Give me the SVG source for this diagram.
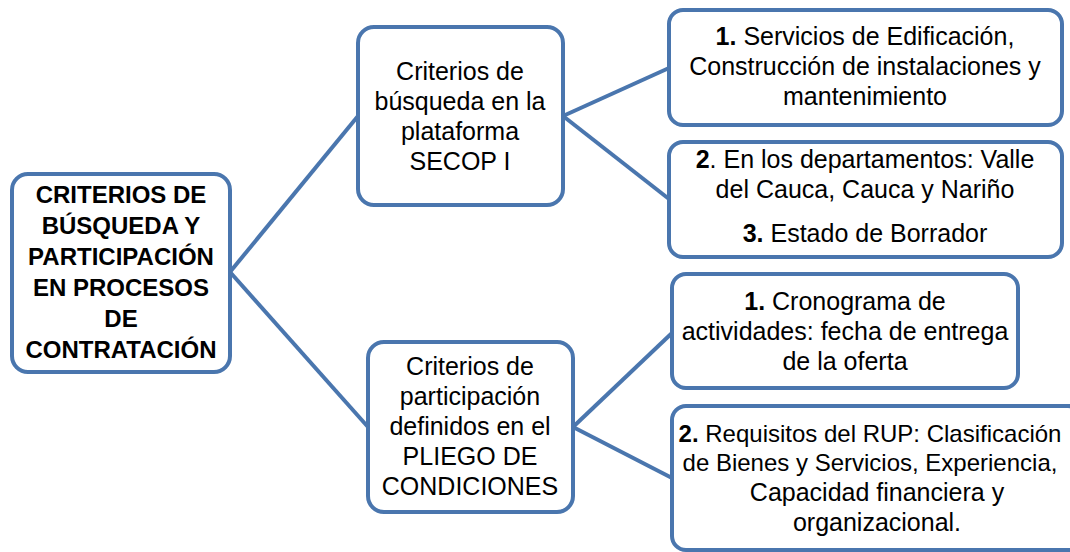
<svg xmlns="http://www.w3.org/2000/svg" width="1070" height="552" viewBox="0 0 1070 552">
<style>
.box{fill:#ffffff;stroke:#4a76ae;stroke-width:4}
.ln{stroke:#4a76ae;stroke-width:4;fill:none}
text{font-family:"Liberation Sans",Arial,sans-serif;font-size:25px;fill:#000;text-anchor:middle}
.root{font-weight:bold;font-size:24px}
.b{font-weight:bold}
.fit{font-size:24px}
</style>
<rect width="1070" height="552" fill="#ffffff"/>
<g id="connectors">
<line class="ln" x1="230" y1="272" x2="358" y2="116"/>
<line class="ln" x1="230" y1="272" x2="368" y2="427"/>
<line class="ln" x1="563" y1="116" x2="669" y2="68"/>
<line class="ln" x1="563" y1="116" x2="669" y2="199"/>
<line class="ln" x1="573" y1="427" x2="672" y2="333"/>
<line class="ln" x1="573" y1="427" x2="672" y2="478"/>
</g>
<g id="root">
<rect class="box" x="12" y="174" width="218" height="198" rx="16"/>
<text class="root" x="121" y="203">CRITERIOS DE</text>
<text class="root" x="121" y="234">BÚSQUEDA Y</text>
<text class="root" x="121" y="265">PARTICIPACIÓN</text>
<text class="root" x="121" y="296">EN PROCESOS</text>
<text class="root" x="121" y="327">DE</text>
<text class="root" x="121" y="358">CONTRATACIÓN</text>
</g>
<g id="busqueda">
<rect class="box" x="358" y="27" width="205" height="178" rx="16"/>
<text x="460" y="80">Criterios de</text>
<text x="460" y="110">búsqueda en la</text>
<text x="460" y="140">plataforma</text>
<text x="460" y="170">SECOP I</text>
</g>
<g id="participacion">
<rect class="box" x="368" y="342" width="205" height="170" rx="16"/>
<text x="470" y="375">Criterios de</text>
<text x="470" y="405">participación</text>
<text x="470" y="435">definidos en el</text>
<text x="470" y="465">PLIEGO DE</text>
<text x="470" y="495">CONDICIONES</text>
</g>
<g id="edificacion">
<rect class="box" x="669" y="10" width="393" height="115" rx="14"/>
<text x="865" y="45"><tspan class="b">1.</tspan> Servicios de Edificación,</text>
<text x="865" y="75">Construcción de instalaciones y</text>
<text x="865" y="105">mantenimiento</text>
</g>
<g id="departamentos">
<rect class="box" x="669" y="142" width="393" height="115" rx="14"/>
<text x="865" y="168"><tspan class="b">2</tspan>. En los departamentos: Valle</text>
<text x="865" y="198">del Cauca, Cauca y Nariño</text>
<text x="865" y="242"><tspan class="b">3.</tspan> Estado de Borrador</text>
</g>
<g id="cronograma">
<rect class="box" x="672" y="274" width="346" height="114" rx="14"/>
<text x="845" y="310"><tspan class="b">1.</tspan> Cronograma de</text>
<text x="845" y="340">actividades: fecha de entrega</text>
<text x="845" y="370">de la oferta</text>
</g>
<g id="rup">
<rect class="box" x="672" y="406" width="410" height="144" rx="14"/>
<text class="fit" x="870" y="442"><tspan class="b">2.</tspan> Requisitos del RUP: Clasificación</text>
<text class="fit" x="870" y="471">de Bienes y Servicios, Experiencia,</text>
<text x="877" y="501">Capacidad financiera y</text>
<text x="877" y="531">organizacional.</text>
</g>
</svg>
